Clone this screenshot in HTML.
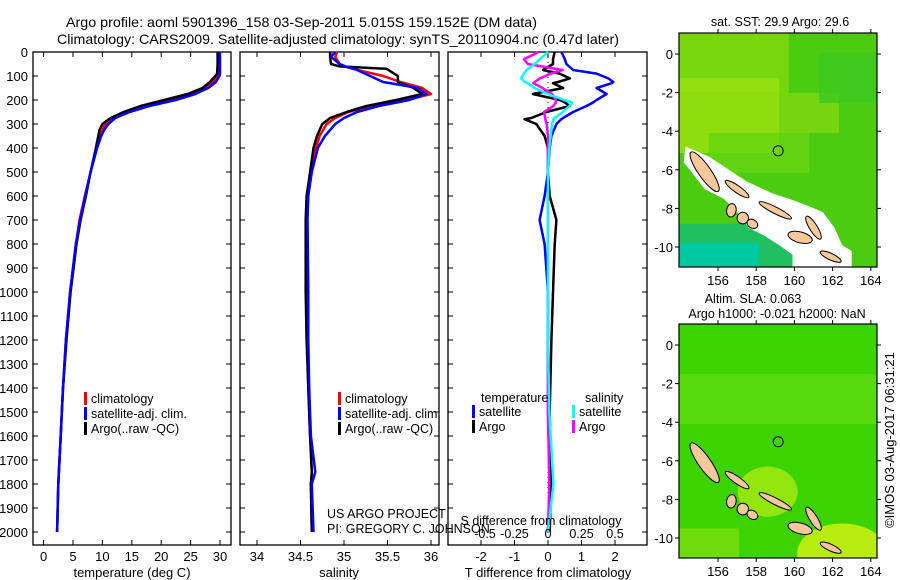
<!DOCTYPE html>
<html><head><meta charset="utf-8"><style>
html,body{margin:0;padding:0;background:#fff;}
svg{display:block;font-family:"Liberation Sans",sans-serif;}
</style></head><body>
<svg id="fig" width="900" height="580" viewBox="0 0 900 580" xmlns="http://www.w3.org/2000/svg">
<text x="66" y="27" font-size="14" textLength="471" lengthAdjust="spacingAndGlyphs">Argo profile: aoml 5901396_158 03-Sep-2011 5.015S 159.152E (DM data)</text>
<text x="57" y="44" font-size="14" textLength="562" lengthAdjust="spacingAndGlyphs">Climatology: CARS2009. Satellite-adjusted climatology: synTS_20110904.nc (0.47d later)</text>
<g id="g"></g>
<text transform="translate(894,440) rotate(-90)" font-size="13" text-anchor="middle">©IMOS 03-Aug-2017 06:31:21</text>
</svg>
<script>
// ---------- data ----------
const depthT = [0,50,90,100,125,150,175,200,225,250,275,300,325,350,400,500,600,700,800,900,1000,1200,1400,1600,1800,2000];
const tempArgo = [29.6,29.6,29.5,29.2,28.3,27.0,24.5,20.5,16.5,13.6,11.4,10.0,9.5,9.3,8.9,8.0,7.2,6.3,5.6,5.1,4.6,3.9,3.3,2.9,2.5,2.3];
const tempClim = [29.8,29.8,29.7,29.5,28.8,27.5,25.0,21.5,17.2,14.0,11.8,10.5,10.0,9.6,9.0,8.0,7.0,6.1,5.5,5.0,4.5,3.8,3.3,2.9,2.5,2.3];
const tempSat = [30.0,30.0,30.0,29.9,29.3,28.0,25.8,22.5,18.0,14.6,12.2,11.0,10.3,9.8,9.1,8.0,7.1,6.2,5.5,5.0,4.5,3.8,3.3,2.9,2.5,2.3];
const depthS = [0,20,50,60,70,100,125,150,175,200,225,250,275,300,350,400,500,600,700,1000,1200,1400,1600,1750,1800,2000];
const salArgo = [34.84,34.84,34.85,34.95,35.49,35.62,35.62,35.80,35.90,35.60,35.26,35.03,34.84,34.75,34.69,34.65,34.61,34.57,34.56,34.56,34.57,34.59,34.61,34.63,34.62,34.63];
const salClim = [34.92,34.90,34.95,35.0,35.10,35.45,35.65,35.90,36.0,35.72,35.30,35.05,34.90,34.80,34.72,34.68,34.62,34.58,34.57,34.57,34.58,34.59,34.61,34.63,34.62,34.63];
const salSat = [34.90,34.85,34.95,35.02,35.12,35.30,35.45,35.85,35.95,35.75,35.40,35.15,35.0,34.90,34.78,34.70,34.63,34.59,34.58,34.59,34.59,34.60,34.62,34.67,34.63,34.65];
const depthD = [0,30,50,75,90,110,125,130,150,175,200,210,225,250,275,280,300,350,400,500,600,700,800,1000,1200,1500,1800,2000];
const dTsat = [0.4,0.5,0.55,0.75,1.45,1.8,1.95,1.9,1.45,1.75,1.45,1.35,1.15,0.75,0.45,0.4,0.25,0.1,0.05,0,-0.1,-0.25,-0.1,0,0,0,0.05,0];
const dTargo = [0.2,0.15,0.15,-0.15,0.35,0.65,0.3,0.15,0.45,-0.45,0.35,0.5,0.65,-0.05,-0.5,-0.7,-0.35,-0.1,0,0,0.05,0.25,0.2,0.15,0.1,0.05,0.1,0.05];
const dSsat = [0,-0.06,-0.1,-0.16,-0.18,-0.2,-0.17,-0.15,-0.1,0,0.12,0.18,0.16,0.11,0.05,0.04,0.03,0.02,0.01,0,0,0,0,0,0,0.01,0.04,0];
const dSargo = [-0.07,-0.18,-0.15,0.11,0.02,-0.06,-0.1,-0.11,-0.04,0.03,0.06,0.06,0.04,-0.03,-0.02,-0.02,-0.01,0,0,0,0,0,0,0,0,0,0.01,0];
const depthTicks = [0,100,200,300,400,500,600,700,800,900,1000,1100,1200,1300,1400,1500,1600,1700,1800,1900,2000];
const tempTicks = [0,5,10,15,20,25,30];
const salTicks = [34,34.5,35,35.5,36];
const salTickLabels = ["34","34.5","35","35.5","36"];
const dTTicks = [-2,-1,0,1,2];
const dSTicks = [-0.5,-0.25,0,0.25,0.5];
const dSTickLabels = ["-0.5","-0.25","0","0.25","0.5"];
const lonTicks = [156,158,160,162,164];
const latTicks = [0,-2,-4,-6,-8,-10];
const argoPos = [159.152,-5.015];

// ---------- helpers ----------
const NS="http://www.w3.org/2000/svg";
const G=document.getElementById('g');
function el(tag,attrs,parent){const e=document.createElementNS(NS,tag);for(const k in attrs)e.setAttribute(k,attrs[k]);(parent||G).appendChild(e);return e;}
function txt(s,x,y,size,anchor,name,parent){const t=el('text',{x:x,y:y,'font-size':size,'text-anchor':anchor||'start'},parent);t.textContent=s;


return t;}
const TOP=52,BOT=545;
const yD=d=>TOP+d*0.24;
const panels=[{x0:33,x1:231},{x0:240,x1:439},{x0:448,x1:647}];
const xT=v=>43.6+v*5.88;
const xS=v=>257+(v-34)*87;
const xDT=v=>548+v*33.5;
const xDS=v=>548+v*134;

function frame(p,name){
  const r=el('rect',{x:p.x0,y:TOP,width:p.x1-p.x0,height:BOT-TOP,fill:'none',stroke:'#000','stroke-width':1.3});
  
  
  depthTicks.forEach(d=>{
    const t1=el('line',{x1:p.x0,x2:p.x0+5,y1:yD(d),y2:yD(d),stroke:'#000'});
    
    
    const t2=el('line',{x1:p.x1-5,x2:p.x1,y1:yD(d),y2:yD(d),stroke:'#000'});
    
    
  });
}
function xticks(vals,labels,fx,ly){
  vals.forEach((v,i)=>{
    const a=el('line',{x1:fx(v),x2:fx(v),y1:TOP,y2:TOP+5,stroke:'#000'});
    
    
    const b=el('line',{x1:fx(v),x2:fx(v),y1:BOT-5,y2:BOT,stroke:'#000'});
    
    
    if(labels) txt(labels[i],fx(v),ly,13,'middle','x-tick-label');
  });
}
function line(ds,vs,fx,color,name,w){
  const pts=ds.map((d,i)=>fx(vs[i]).toFixed(1)+','+yD(d).toFixed(1)).join(' ');
  const l=el('polyline',{points:pts,fill:'none',stroke:color,'stroke-width':w||2.5,'stroke-linejoin':'round'});
  
  
}
function legendRow(x,y,color,label,name){
  const b=el('rect',{x:x,y:y-11,width:3,height:13,fill:color});
  
  
  txt(label,x+7,y,12.5,'start',name+'-label');
}

// ---------- panel 1: temperature ----------
frame(panels[0],'temperature-panel');
depthTicks.forEach(d=>txt(String(d),28,yD(d)+5,13,'end','depth-tick-label'));
xticks(tempTicks,tempTicks.map(String),xT,561);
txt('temperature (deg C)',132,577,13,'middle','temperature-axis-title');
line(depthT,tempClim,xT,'#f00','temp-climatology-line');
line(depthT,tempArgo,xT,'#000','temp-argo-line');
line(depthT,tempSat,xT,'#00f','temp-satellite-line');
legendRow(84,403,'#f00','climatology','legend-climatology');
legendRow(84,418,'#00f','satellite-adj. clim.','legend-satellite');
legendRow(84,433,'#000','Argo(..raw -QC)','legend-argo');

// ---------- panel 2: salinity ----------
frame(panels[1],'salinity-panel');
xticks(salTicks,salTickLabels,xS,561);
txt('salinity',339,577,13,'middle','salinity-axis-title');
line(depthS,salClim,xS,'#f00','sal-climatology-line');
line(depthS,salArgo,xS,'#000','sal-argo-line');
line(depthS,salSat,xS,'#00f','sal-satellite-line');
legendRow(338,403,'#f00','climatology','legend-sal-climatology');
legendRow(338,418,'#00f','satellite-adj. clim.','legend-sal-satellite');
legendRow(338,433,'#000','Argo(..raw -QC)','legend-sal-argo');
txt('US ARGO PROJECT',327,518,12.5,'start','project-label');
txt('PI: GREGORY C. JOHNSON',327,533,12.5,'start','pi-label');

// ---------- panel 3: differences ----------
frame(panels[2],'difference-panel');
xticks(dTTicks,dTTicks.map(String),xDT,561);
const zl=el('line',{x1:548,x2:548,y1:TOP,y2:BOT,stroke:'#000','stroke-dasharray':'1,4'});


txt('T difference from climatology',548,577,13,'middle','t-difference-axis-title');
line(depthD,dTsat,xDT,'#00f','dt-satellite-line');
line(depthD,dTargo,xDT,'#000','dt-argo-line');
line(depthD,dSargo,xDS,'#f0f','ds-argo-line');
line(depthD,dSsat,xDS,'#0ff','ds-satellite-line');
txt('S difference from climatology',541,525,12.5,'middle','s-difference-axis-title');
dSTicks.forEach((v,i)=>txt(dSTickLabels[i],xDS(v)+(i==0?4:0),538,12.5,'middle','s-tick-label'));
txt('temperature',481,402,12.5,'start','legend-temperature-header');
txt('salinity',585,402,12.5,'start','legend-salinity-header');
legendRow(472,416,'#00f','satellite','legend-t-satellite');
legendRow(472,431,'#000','Argo','legend-t-argo');
legendRow(572,416,'#0ff','satellite','legend-s-satellite');
legendRow(572,431,'#f0f','Argo','legend-s-argo');

// ---------- maps ----------
const islands=[[155.3,-6.1,1.25,0.32,55],[157.0,-7.0,0.75,0.18,35],[156.7,-8.1,0.25,0.35,10],[157.3,-8.5,0.3,0.3,20],[157.8,-8.8,0.3,0.22,30],[159.0,-8.1,0.95,0.17,27],[161.0,-9.0,0.7,0.2,58],[160.3,-9.5,0.65,0.28,15],[161.9,-10.5,0.6,0.17,25]];
function map(top,name,mode){
  const x0=679,x1=877,y0=top,y1=top+234;
  const lat0=top+21;
  const fx=lo=>718+(lo-156)*19.1, fy=la=>lat0-la*19.3;
  const g=el('g',{});
  
  
  const cid='clip'+top;
  const cp=el('clipPath',{id:cid},g);el('rect',{x:x0,y:y0,width:x1-x0,height:y1-y0},cp);
  const m=el('g',{'clip-path':'url(#'+cid+')'},g);
  if(mode==1){
    el('rect',{x:x0,y:y0,width:x1-x0,height:y1-y0,fill:'#4ccc10'},m);
    el('rect',{x:x0,y:y0,width:110,height:60,fill:'#7cd810',opacity:0.9},m);
    el('rect',{x:x0,y:y0+45,width:100,height:75,fill:'#96e010',opacity:0.9},m);
    el('rect',{x:x0+100,y:y0+60,width:60,height:40,fill:'#80d810',opacity:0.8},m);
    el('rect',{x:x0+140,y:y0+20,width:58,height:50,fill:'#3cc820',opacity:0.8},m);
    el('rect',{x:x0+30,y:y0+100,width:100,height:40,fill:'#66d410',opacity:0.8},m);
    el('rect',{x:x0,y:fy(-8.8),width:fx(159.9)-x0,height:y1-fy(-8.8),fill:'#20c060'},m);
    el('rect',{x:x0,y:fy(-9.8),width:80,height:y1-fy(-9.8),fill:'#00c8a0'},m);
    const wp=[[154.3,-4.8],[155.5,-5.3],[157.5,-6.6],[158.8,-7.2],[160,-7.6],[160.8,-7.9],[161.5,-8.2],[162.1,-9.0],[162.5,-9.9],[163.0,-10.2],[163.0,-11.2],[159.9,-11.2],[159.9,-10.4],[159.2,-9.9],[158.4,-9.4],[157.6,-9.0],[157.2,-8.4],[156.3,-7.5],[155.3,-7.0],[154.6,-6.1],[154.2,-5.6]];
    const w=el('polygon',{points:wp.map(p=>fx(p[0])+','+fy(p[1])).join(' '),fill:'#fff'},m);
    
    
  } else {
    el('rect',{x:x0,y:y0,width:x1-x0,height:y1-y0,fill:'#3cd400'},m);
    el('rect',{x:x0,y:y0+50,width:198,height:50,fill:'#5cdc10',opacity:0.8},m);
    el('ellipse',{cx:fx(158.6),cy:fy(-7.6),rx:30,ry:25,fill:'#a8ea10',opacity:0.8},m);
    el('ellipse',{cx:fx(162.5),cy:fy(-10.8),rx:45,ry:30,fill:'#c4ee10',opacity:0.9},m);
    el('rect',{x:x0,y:fy(-9.5),width:60,height:60,fill:'#90e010',opacity:0.6},m);
  }
  islands.forEach(s=>{
    const e=el('ellipse',{cx:0,cy:0,rx:s[2]*19.1,ry:s[3]*19.3,fill:'#f8c89a',stroke:'#000','stroke-width':1,transform:'translate('+fx(s[0])+','+fy(s[1])+') rotate('+s[4]+')'},m);
    
    
  });
  const c=el('circle',{cx:fx(argoPos[0]),cy:fy(argoPos[1]),r:5,fill:'none',stroke:'#000','stroke-width':1},m);
  
  
  const fr=el('rect',{x:x0,y:y0,width:x1-x0,height:y1-y0,fill:'none',stroke:'#000','stroke-width':1.2},g);
  
  
  lonTicks.forEach(lo=>{
    el('line',{x1:fx(lo),x2:fx(lo),y1:y0-4,y2:y0,stroke:'#000'},g);
    el('line',{x1:fx(lo),x2:fx(lo),y1:y1,y2:y1+4,stroke:'#000'},g);
    txt(String(lo),fx(lo),y1+18,13,'middle','lon-tick-label',g);
  });
  latTicks.forEach(la=>{
    el('line',{x1:x0-4,x2:x0,y1:fy(la),y2:fy(la),stroke:'#000'},g);
    el('line',{x1:x1,x2:x1+4,y1:fy(la),y2:fy(la),stroke:'#000'},g);
    txt(String(la),673,fy(la)+5,13,'end','lat-tick-label',g);
  });
}
map(33,'sst-map',1);
txt('sat. SST: 29.9 Argo: 29.6',780,26,12.5,'middle','sst-map-title');
map(324,'sla-map',2);
txt('Altim. SLA: 0.063',753,303,12.5,'middle','sla-map-title');
txt('Argo h1000: -0.021 h2000: NaN',777,318,12.5,'middle','sla-map-subtitle');
</script>
</body></html>
